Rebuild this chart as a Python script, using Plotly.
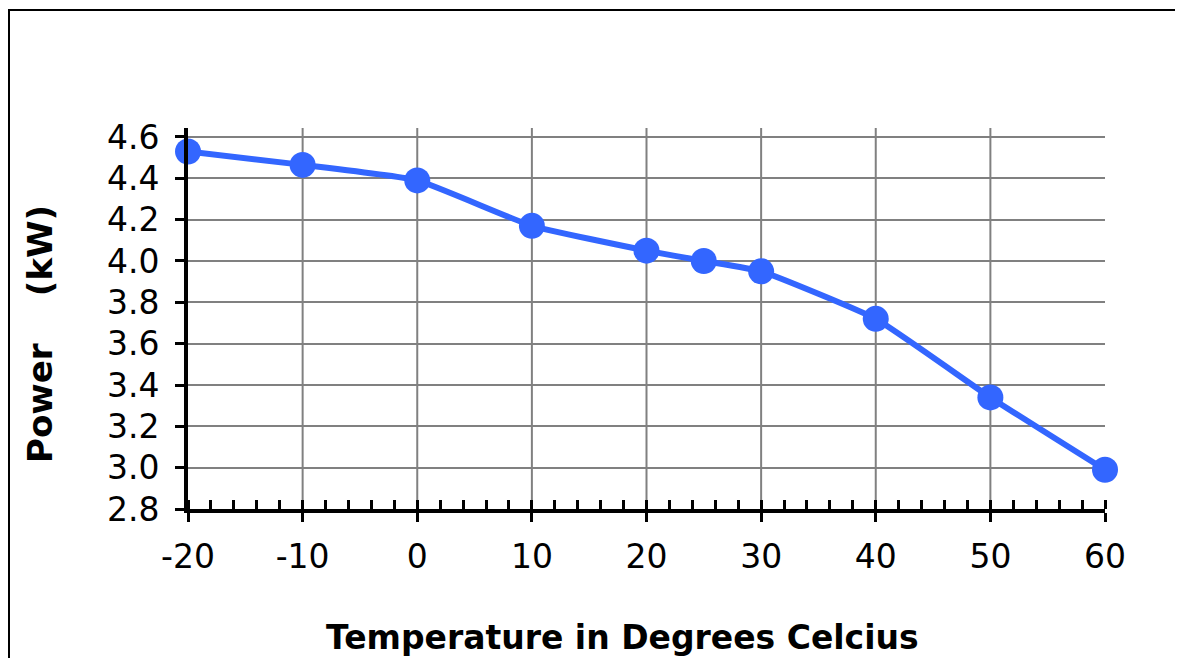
# Power vs temperature line chart (Excel-style), rebuilt in Plotly.
import plotly.graph_objects as go

# ── Data ──────────────────────────────────────────────────────────────────────
temp_c   = [-20, -10, 0, 10, 20, 25, 30, 40, 50, 60]
power_kw = [4.53, 4.465, 4.39, 4.17, 4.05, 4.0, 3.95, 3.72, 3.34, 2.99]

x_ticks  = [-20, -10, 0, 10, 20, 30, 40, 50, 60]
x_labels = ["-20", "-10", "0", "10", "20", "30", "40", "50", "60"]
x_grid   = [-10, 0, 10, 20, 30, 40, 50]   # no gridline at the right edge
y_ticks  = [2.8, 3.0, 3.2, 3.4, 3.6, 3.8, 4.0, 4.2, 4.4, 4.6]

# ── Style ─────────────────────────────────────────────────────────────────────
_BLUE  = "#3366FF"
_GRID  = "#808080"
_FONT  = "Verdana, 'DejaVu Sans', sans-serif"
_OFF   = 8                      # page body margin around the figure
_W, _H = 1175, 650
_L, _R, _T, _B = 180, 78, 120, 149

fig = go.Figure()

fig.add_trace(go.Scatter(
    x=temp_c,
    y=power_kw,
    mode="lines+markers",
    line=dict(color=_BLUE, width=6, shape="spline", smoothing=0.4),
    marker=dict(color=_BLUE, size=26, line=dict(width=0)),
    showlegend=False,
    cliponaxis=False,
))

# invisible trace on the overlay axis so its inside ticks get drawn
fig.add_trace(go.Scatter(
    x=[temp_c[0]], y=[power_kw[0]], xaxis="x2",
    mode="markers", marker=dict(opacity=0), showlegend=False, hoverinfo="skip",
))

pw = _W - _L - _R
ph = _H - _T - _B


def px_x(p):
    # page pixel -> paper x
    return (p - _OFF - _L) / pw


def px_y(p):
    # page pixel -> paper y
    return (_H - _B - (p - _OFF)) / ph


# vertical gridlines (placed on the data axis)
grid_shapes = [
    dict(type="line", xref="x", yref="paper", layer="below",
         x0=g, x1=g, y0=0, y1=1, line=dict(color=_GRID, width=2))
    for g in x_grid
]

frame = dict(
    type="rect", xref="paper", yref="paper", layer="below",
    x0=px_x(9), x1=px_x(1200), y0=px_y(700), y1=px_y(10),
    line=dict(color="black", width=2), fillcolor="rgba(0,0,0,0)",
)

fig.update_layout(
    width=_W,
    height=_H,
    margin=dict(l=_L, r=_R, t=_T, b=_B),
    plot_bgcolor="white",
    paper_bgcolor="white",
    font=dict(family=_FONT, size=33, color="black"),
    xaxis=dict(
        range=[-20, 60],
        tickvals=x_ticks,
        ticktext=x_labels,
        ticks="outside",
        ticklen=9,
        tickwidth=3,
        tickcolor="black",
        showline=True,
        linecolor="black",
        linewidth=4,
        showgrid=False,
        zeroline=False,
        minor=dict(dtick=2, ticks="inside", ticklen=9, tickwidth=3,
                   tickcolor="black", showgrid=False),
        ticklabelstandoff=6,
    ),
    # inside half of the crossing major ticks
    xaxis2=dict(
        overlaying="x",
        matches="x",
        side="bottom",
        tickvals=x_ticks,
        ticks="inside",
        ticklen=9,
        tickwidth=3,
        tickcolor="black",
        showticklabels=False,
        showgrid=False,
        zeroline=False,
        showline=False,
    ),
    yaxis=dict(
        range=[2.8, 4.6435],
        tickvals=y_ticks,
        tickformat=".1f",
        ticks="outside",
        ticklen=9,
        tickwidth=3,
        tickcolor="black",
        showline=True,
        linecolor="black",
        linewidth=4,
        showgrid=True,
        gridcolor=_GRID,
        gridwidth=2,
        zeroline=False,
        ticklabelstandoff=9,
    ),
    annotations=[
        dict(
            text="Temperature in Degrees Celcius",
            x=px_x(622), y=px_y(637), xref="paper", yref="paper",
            showarrow=False, xanchor="center", yanchor="middle",
            font=dict(family=_FONT, size=33, color="black", weight="bold"),
        ),
        dict(
            text="Power\u00a0\u00a0\u00a0\u00a0(kW)",
            x=px_x(40), y=px_y(334), xref="paper", yref="paper",
            showarrow=False, xanchor="center", yanchor="middle", textangle=-90,
            font=dict(family=_FONT, size=34, color="black", weight="bold"),
        ),
    ],
    shapes=grid_shapes + [frame],
)

fig.write_html("out.html")
